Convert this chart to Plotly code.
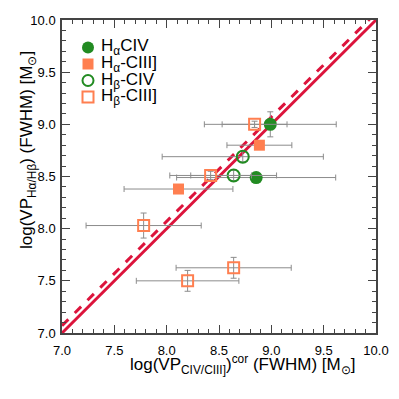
import plotly.graph_objects as go

# Hα-CIV (filled green circles)
ha_civ_x = [8.99, 8.855]
ha_civ_y = [9.00, 8.49]
ha_civ_xerr = [0.63, 0.76]
ha_civ_yerr = [0.12, 0.0]

# Hα-CIII] (filled orange squares)
ha_ciii_x = [8.886, 8.113]
ha_ciii_y = [8.80, 8.38]
ha_ciii_xerr = [0.31, 0.52]
ha_ciii_yerr = [0.0, 0.0]

# Hβ-CIV (open green circles)
hb_civ_x = [8.727, 8.64]
hb_civ_y = [8.69, 8.51]
hb_civ_xerr = [0.77, 0.41]
hb_civ_yerr = [0.05, 0.05]

# Hβ-CIII] (open orange squares)
hb_ciii_x = [8.84, 8.42, 7.78, 8.64, 8.20]
hb_ciii_y = [9.00, 8.51, 8.03, 7.625, 7.50]
hb_ciii_xerr = [0.31, 0.39, 0.55, 0.55, 0.49]
hb_ciii_yerr = [0.03, 0.04, 0.12, 0.10, 0.10]

legend_labels = ["H<sub>α</sub>CIV", "H<sub>α</sub>-CIII]", "H<sub>β</sub>-CIV", "H<sub>β</sub>-CIII]"]
x_title = "log(VP<sub>CIV/CIII]</sub>)<sup>cor</sup> (FWHM) [M<sub>⊙</sub>]"
y_title = "log(VP<sub>Hα/Hβ</sub>) (FWHM) [M<sub>⊙</sub>]"

line_x = [7.0, 10.0]
dash_offset = 0.07

GREEN = "#228B22"
ORANGE = "#FF7F50"
RED = "#DC143C"
GRAY = "#8c8c8c"

# plot area geometry (layout pixels; page body adds an 8px offset)
L, T = 54, 12
W, H = 314, 313
R = 399 - L - W
B = 399 - T - H
PB = T + H  # bottom of plot area, layout px


def px_x(px):
    return (px - L) / W


def px_y(py):
    return (PB - py) / H


fig = go.Figure()

fig.add_trace(go.Scatter(x=line_x, y=line_x, mode="lines",
                         line=dict(color=RED, width=3), showlegend=False))
fig.add_trace(go.Scatter(x=line_x, y=[v + dash_offset for v in line_x], mode="lines",
                         line=dict(color=RED, width=3, dash="dash"), showlegend=False))


def err(arr):
    return dict(type="data", array=arr, visible=True, color=GRAY, thickness=1, width=3)


fig.add_trace(go.Scatter(x=ha_civ_x, y=ha_civ_y, mode="markers", name=legend_labels[0],
                         marker=dict(symbol="circle", size=13, color=GREEN),
                         error_x=err(ha_civ_xerr), error_y=err(ha_civ_yerr), showlegend=False))
fig.add_trace(go.Scatter(x=ha_ciii_x, y=ha_ciii_y, mode="markers", name=legend_labels[1],
                         marker=dict(symbol="square", size=11, color=ORANGE),
                         error_x=err(ha_ciii_xerr), error_y=err(ha_ciii_yerr), showlegend=False))
fig.add_trace(go.Scatter(x=hb_civ_x, y=hb_civ_y, mode="markers", name=legend_labels[2],
                         marker=dict(symbol="circle-open", size=12, color=GREEN, line=dict(width=2)),
                         error_x=err(hb_civ_xerr), error_y=err(hb_civ_yerr), showlegend=False))
fig.add_trace(go.Scatter(x=hb_ciii_x, y=hb_ciii_y, mode="markers", name=legend_labels[3],
                         marker=dict(symbol="square-open", size=11, color=ORANGE, line=dict(width=2)),
                         error_x=err(hb_ciii_xerr), error_y=err(hb_ciii_yerr), showlegend=False))

# compact legend (symbols as shapes, labels as annotations)
legend_rows_px = [39.5, 56, 72.5, 89]
legend_styles = [
    ("circle", GREEN, GREEN, 12),
    ("rect", ORANGE, ORANGE, 11),
    ("circle", None, GREEN, 11),
    ("rect", None, ORANGE, 11),
]
shapes = []
annotations = []
for lbl, py, (kind, fillc, linec, sz) in zip(legend_labels, legend_rows_px, legend_styles):
    h = sz / 2
    shapes.append(dict(type=kind, xref="paper", yref="paper",
                       xsizemode="pixel", ysizemode="pixel",
                       xanchor=px_x(80), yanchor=px_y(py),
                       x0=-h, x1=h, y0=-h, y1=h,
                       fillcolor=fillc if fillc else "rgba(0,0,0,0)",
                       line=dict(color=linec, width=0 if fillc else 2)))
    annotations.append(dict(x=px_x(91), y=px_y(py), xref="paper", yref="paper",
                            xanchor="left", yanchor="middle", showarrow=False,
                            text=lbl, font=dict(size=17, color="black")))

# axis titles
annotations.append(dict(x=px_x(234), y=px_y(356), xref="paper", yref="paper",
                        xanchor="center", yanchor="middle", showarrow=False,
                        text=x_title, font=dict(size=17, color="black")))
annotations.append(dict(x=px_x(20), y=px_y(142), xref="paper", yref="paper",
                        xanchor="center", yanchor="middle", showarrow=False, textangle=-90,
                        text=y_title, font=dict(size=17, color="black")))

axis_common = dict(
    range=[7.0, 10.0], dtick=0.5, tick0=7.0, tickformat=".1f",
    ticks="inside", ticklen=8, tickcolor="#444", tickwidth=1,
    minor=dict(dtick=0.1, ticks="inside", ticklen=4, tickcolor="#444"),
    showline=True, linecolor="#444", linewidth=1.5, mirror="allticks",
    showgrid=False, zeroline=False, automargin=False,
    tickfont=dict(family="Liberation Sans, Arial", size=13, color="black"),
)

fig.update_layout(
    width=399, height=399,
    margin=dict(l=L, r=R, t=T, b=B),
    paper_bgcolor="white", plot_bgcolor="white",
    font=dict(family="Liberation Sans, Arial", color="black"),
    xaxis=dict(axis_common, ticklabelstandoff=5),
    yaxis=dict(axis_common, ticklabelstandoff=2),
    shapes=shapes,
    annotations=annotations,
    showlegend=False,
)

fig.write_html("out.html")
